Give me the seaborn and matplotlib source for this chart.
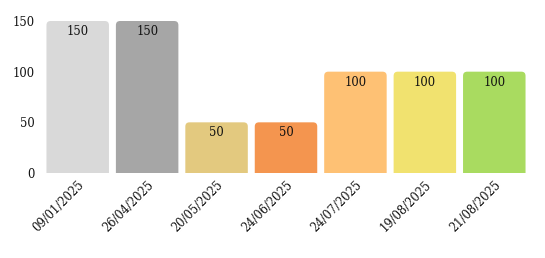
import matplotlib
matplotlib.use("Agg")
import matplotlib.pyplot as plt
import seaborn as sns
import pandas as pd
from matplotlib.patches import FancyBboxPatch

dates = ["09/01/2025", "26/04/2025", "20/05/2025", "24/06/2025",
         "24/07/2025", "19/08/2025", "21/08/2025"]
values = [150, 150, 50, 50, 100, 100, 100]
colors = ["#d9d9d9", "#a6a6a6", "#e3c97f", "#f4954f", "#fec174", "#f1e26f", "#a9db60"]
yticks = [0, 50, 100, 150]

sns.set_theme(style="white")
plt.rcParams['font.family'] = ['DejaVu Serif']

df = pd.DataFrame({"date": dates, "value": values})

fig = plt.figure(figsize=(5.45, 2.58), dpi=100)
ax = fig.add_axes([43 / 545, 1 - 173 / 258, 486 / 545, 152 / 258])
sns.barplot(data=df, x="date", y="value", hue="date", palette=colors,
            legend=False, width=0.9, ax=ax, saturation=1)

# replace with rounded-top bars
new = []
for p in list(ax.patches):
    x, w, h = p.get_x(), p.get_width(), p.get_height()
    fc = p.get_facecolor()
    p.remove()
    fb = FancyBboxPatch((x, -12), w, h + 12,
                        boxstyle="round,pad=0,rounding_size=0.06",
                        mutation_aspect=68, facecolor=fc, edgecolor="none",
                        clip_on=True)
    ax.add_patch(fb)
    new.append((x + w / 2, h))

fs = 8.3
for (cx, h) in new:
    ax.annotate(f"{int(h)}", (cx, h), xytext=(0, -3), textcoords="offset points",
                ha="center", va="top", fontsize=fs, color="#111111")

ax.set_ylim(0, 150)
ax.set_xlim(-0.5, len(dates) - 0.5)
ax.set_yticks(yticks)
ax.set_yticklabels([str(t) for t in yticks], fontsize=fs, color="#111111")
ax.set_xticks(range(len(dates)))
ax.set_xticklabels(dates, rotation=45, ha="right", rotation_mode="anchor",
                   fontsize=fs, color="#111111")
ax.tick_params(axis="both", length=0, pad=6)
ax.tick_params(axis="x", pad=4)
ax.set_xlabel("")
ax.set_ylabel("")
for s in ax.spines.values():
    s.set_visible(False)

fig.savefig("out.png", dpi=100)
